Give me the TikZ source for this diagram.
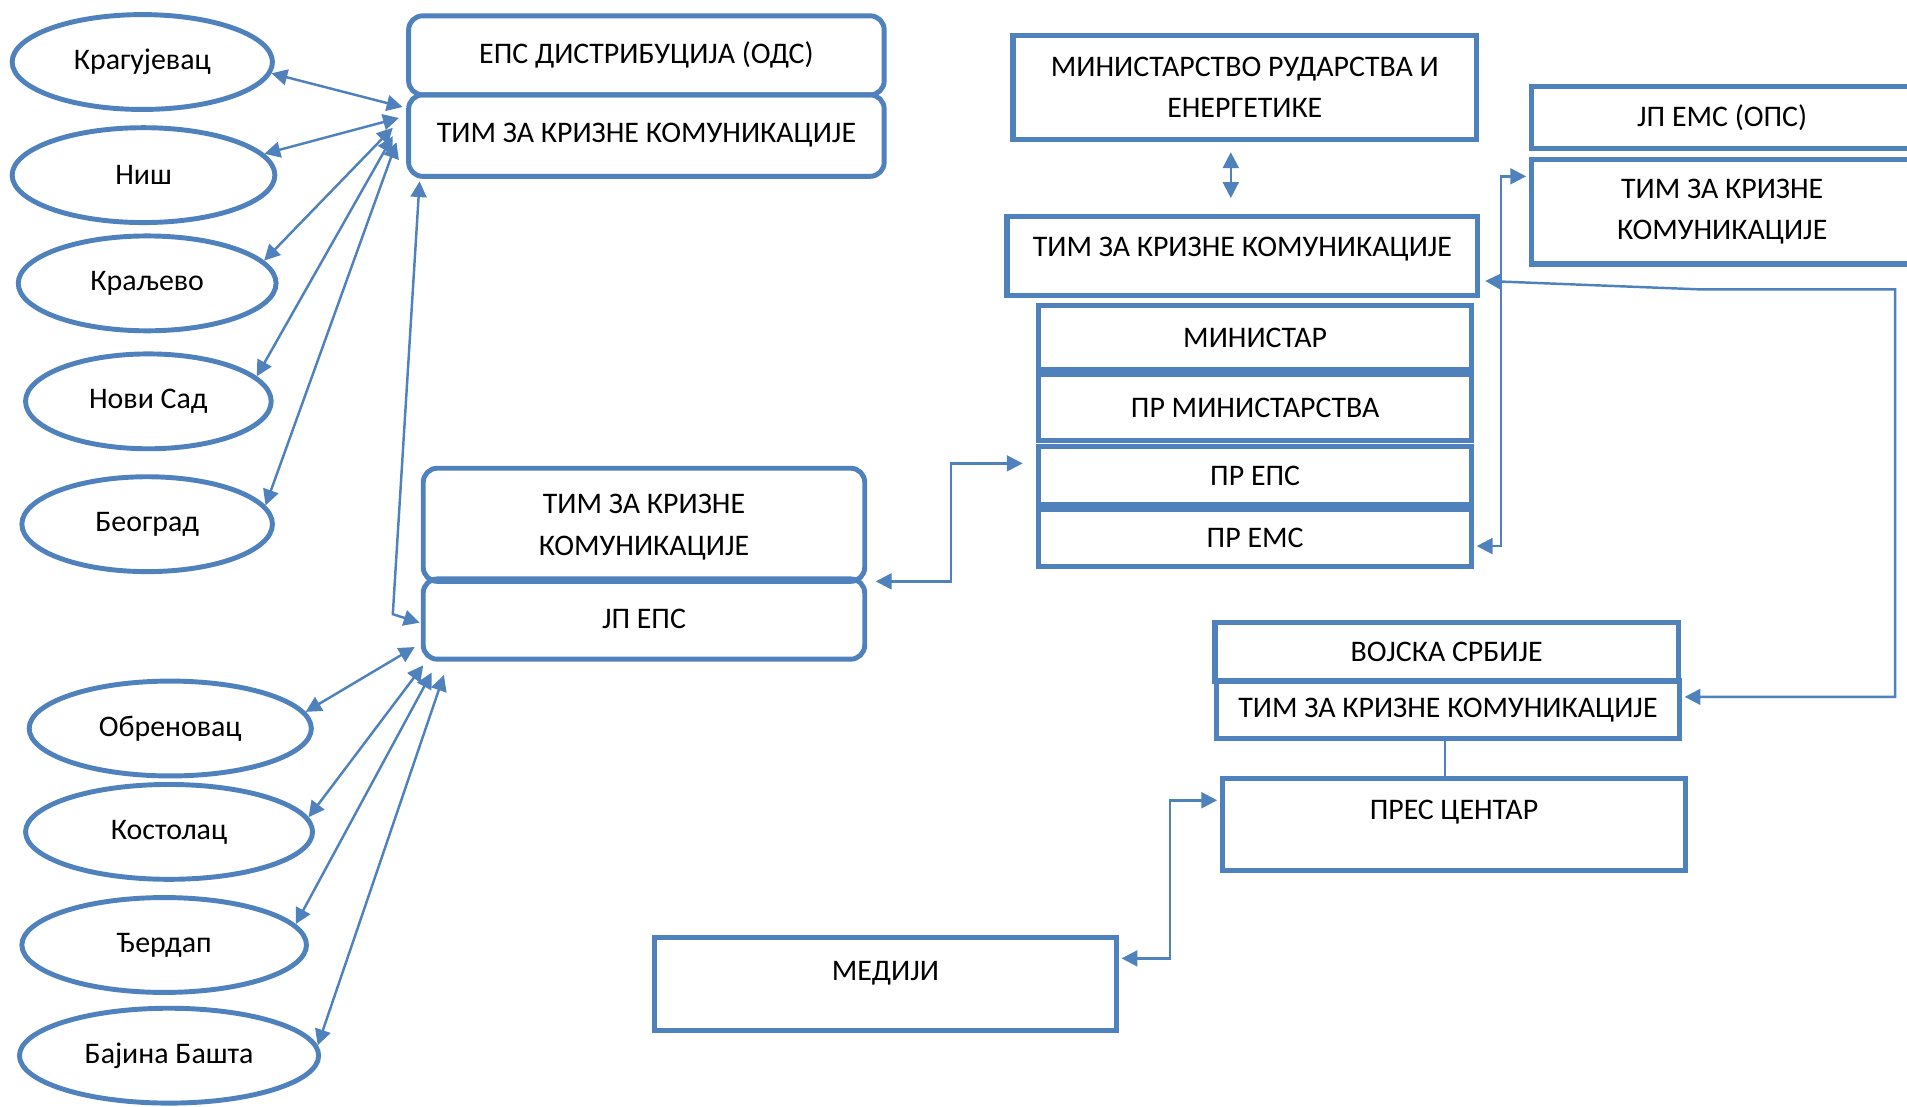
\documentclass[tikz,border=0pt]{standalone}
\usepackage{fontspec}
\setmainfont{Carlito}
\usepackage{tikz}
\usetikzlibrary{arrows.meta,shapes.geometric}
\definecolor{wblue}{RGB}{79,129,189}
\tikzset{
  sz/.style 2 args={minimum width=#1*0.012162cm,minimum height=#2*0.012162cm},
  city/.style={ellipse,draw=wblue,line width=1.4pt,inner sep=0pt,minimum height=78*0.012162cm},
  rbox/.style={draw=wblue,line width=1.4pt,rounded corners=4pt,inner sep=0pt},
  sbox/.style={draw=wblue,line width=1.5pt,inner sep=0pt},
  lnk/.style={wblue,line width=0.7pt,{Triangle[length=4.5pt,width=4.5pt]}-{Triangle[length=4.5pt,width=4.5pt]}}
}

\begin{document}
\begin{tikzpicture}[x=0.012162cm,y=-0.012162cm,font=\fontsize{8.5}{11.8}\selectfont]
  \useasboundingbox (0,0) rectangle (1568,910);
  \foreach \k/\x/\y/\w/\t in {1/117/51/214/Крагујевац,2/118/144/216/Ниш,3/121/233/212/Краљево,4/122/330/202/Нови Сад,5/121/431/206/Београд,6/140/599/232/Обреновац,7/139/684/236/Костолац,8/135/777/234/Ђердап,9/139/868/246/Бајина Башта} {\node[city,minimum width=\w*0.012162cm] (c\k) at (\x,\y) {\t};}
  \node[rbox,sz={391}{65}] (od) at (531.5,45.5) {ЕПС ДИСТРИБУЦИЈА (ОДС)};
  \node[rbox,sz={391}{67}] (tk) at (531.5,111.5) {ТИМ ЗА КРИЗНЕ КОМУНИКАЦИЈЕ};
  \node[rbox,sz={363}{93},align=center] (te) at (529.5,431.5) {\\[-5pt]ТИМ ЗА КРИЗНЕ\\КОМУНИКАЦИЈЕ};
  \node[rbox,sz={363}{66}] (jp) at (529.5,509) {ЈП ЕПС};
  \node[sbox,sz={381}{86},align=center] (mn) at (1023.5,72) {МИНИСТАРСТВО РУДАРСТВА И\\ЕНЕРГЕТИКЕ};
  \node[sbox,sz={387}{65},text depth=5pt] (mt) at (1021.5,210.5) {ТИМ ЗА КРИЗНЕ КОМУНИКАЦИЈЕ};
  \foreach \n/\y/\h/\t in {mi/277.5/53/МИНИСТАР,pm/335/54/ПР МИНИСТАРСТВА,pe/391/48/ПР ЕПС,ps/442.5/47/ПР ЕМС} {\node[sbox,sz={356}{\h}] (\n) at (1032,\y) {\t};}
  \node[sbox,sz={314}{51}] (ej) at (1416,96.5) {ЈП ЕМС (ОПС)};
  \node[sbox,sz={314}{86},align=center] (et) at (1416,174) {ТИМ ЗА КРИЗНЕ\\КОМУНИКАЦИЈЕ};
  \node[sbox,sz={381}{48}] (vs) at (1189.5,536) {ВОЈСКА СРБИЈЕ};
  \node[sbox,sz={381}{47}] (vt) at (1190.5,583.5) {ТИМ ЗА КРИЗНЕ КОМУНИКАЦИЈЕ};
  \node[sbox,sz={381}{76},text depth=8.5pt] (pc) at (1195.5,678) {ПРЕС ЦЕНТАР};
  \node[sbox,sz={380}{76},text depth=7.5pt] (md) at (728,809) {МЕДИЈИ};
  \foreach \k/\a/\dx/\dy in {1/-5/-3/-23.5,2/10/-6/-14.5,3/11/-11/-6.5,4/13/-11/0.5,5/9/-8/5.5} {\draw[lnk] (c\k.\a) -- ([shift={(\dx,\dy)}]tk.west);}
  \foreach \k/\a/\dx/\dy in {6/7/-5/-12,7/6/2/3,8/9/9/9,9/4/19/11} {\draw[lnk] (c\k.\a) -- ([shift={(\dx,\dy)}]jp.south west);}
  \draw[lnk] ([shift={(11,2)}]tk.south west) -- ([shift={(-23,-4)}]jp.west) -- ([shift={(-1,3)}]jp.west);
  \draw[lnk] ([shift={(7,-2)}]te.south east) -- ++(62,0) |- ([shift={(-11,-10)}]pe.west);
  \draw[lnk] ([shift={(-11.5,8)}]mn.south) -- ([shift={(-9.5,-13)}]mt.north);
  \draw[lnk] ([shift={(2,6.5)}]ps.east) -- ++(20,0) |- ([shift={(-2,-29)}]et.west);
  \draw[lnk] ([shift={(2,-10.5)}]vt.east) -- ++(173,0) -- ++(0,-335) -- ++(-159,0) -- ([shift={(4,20.5)}]mt.east);
  \draw[wblue,line width=0.5pt] ([xshift=-2.5*0.012162cm]vt.south) -- ([xshift=-2.5*0.012162cm]vt.south |- pc.north);
  \draw[lnk] ([shift={(2,-21)}]md.east) -- ++(40,0) |- ([shift={(-2,-20)}]pc.west);
\end{tikzpicture}
\end{document}
